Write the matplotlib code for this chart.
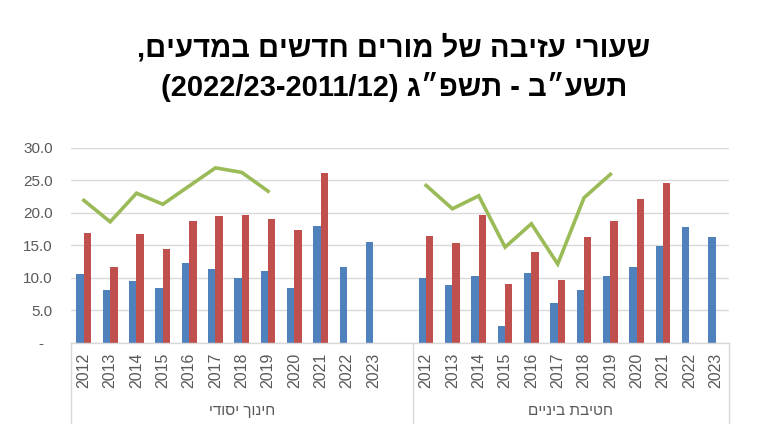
import numpy as np
import matplotlib.pyplot as plt
from matplotlib.transforms import blended_transform_factory

plt.rcParams['font.family'] = ['Liberation Sans', 'DejaVu Sans']

years = ['2012', '2013', '2014', '2015', '2016', '2017',
         '2018', '2019', '2020', '2021', '2022', '2023']

# חינוך יסודי
prim_1yr = [10.6, 8.1, 9.5, 8.4, 12.2, 11.4, 9.9, 11.0, 8.4, 17.9, 11.6, 15.5]
prim_3yr = [16.9, 11.6, 16.7, 14.4, 18.8, 19.5, 19.6, 19.0, 17.4, 26.1, np.nan, np.nan]
prim_5yr = [21.9, 18.6, 23.0, 21.3, 24.1, 26.9, 26.2, 23.3, np.nan, np.nan, np.nan, np.nan]

# חטיבת ביניים
mid_1yr = [10.0, 8.9, 10.3, 2.5, 10.8, 6.1, 8.1, 10.2, 11.7, 14.9, 17.8, 16.3]
mid_3yr = [16.4, 15.3, 19.6, 9.1, 14.0, 9.6, 16.3, 18.8, 22.1, 24.6, np.nan, np.nan]
mid_5yr = [24.2, 20.6, 22.6, 14.7, 18.3, 12.1, 22.3, 25.9, np.nan, np.nan, np.nan, np.nan]

# hebrew strings written in visual order (matplotlib has no bidi)
title_1 = ',םיעדמב םישדח םירומ לש הביזע ירועש'
title_2 = '(2022/23-2011/12) ג״פשת - ב״עשת'
group_labels = ['ידוסי ךוניח', 'םייניב תביטח']

blue = '#4F81BD'
red = '#C0504D'
green = '#9BBB59'
grey = '#595959'
light = '#D9D9D9'

fig = plt.figure(figsize=(7.6, 4.26), dpi=100)
ax = fig.add_axes([0.093, 0.1955, 0.866, 0.4578])

pos_l = np.arange(12)
pos_r = np.arange(13, 25)
w = 0.28

for pos, b, r, g in [(pos_l, prim_1yr, prim_3yr, prim_5yr),
                     (pos_r, mid_1yr, mid_3yr, mid_5yr)]:
    ax.bar(pos - w / 2, b, width=w, color=blue, zorder=2)
    ax.bar(pos + w / 2, r, width=w, color=red, zorder=2)
    ax.plot(pos, g, color=green, lw=2.6, zorder=3, solid_joinstyle='miter')

ax.set_xlim(-0.5, 24.5)
ax.set_ylim(0, 30)
ax.set_yticks(np.arange(0, 31, 5))
ax.set_yticklabels(['-  '] + [f'{v:.1f}' for v in np.arange(5, 31, 5)])
ax.set_xticks(np.concatenate([pos_l, pos_r]))
ax.set_xticklabels(years + years, rotation=90)
ax.tick_params(axis='y', length=0, pad=13, labelsize=11, labelcolor=grey)
ax.tick_params(axis='x', length=0, pad=7, labelsize=11.5, labelcolor=grey)
ax.grid(axis='y', color=light, lw=1, zorder=0)
for s in ['top', 'right', 'left']:
    ax.spines[s].set_visible(False)
ax.spines['bottom'].set_color(light)
ax.spines['bottom'].set_linewidth(1)

tr = blended_transform_factory(ax.transData, ax.transAxes)
for xv in [-0.5, 12.5, 24.5]:
    ax.plot([xv, xv], [0, -0.41], color=light, lw=1, transform=tr, clip_on=False)
ax.text(6, -0.35, group_labels[0], transform=tr, ha='center', va='center',
        fontsize=11, color=grey)
ax.text(18.5, -0.35, group_labels[1], transform=tr, ha='center', va='center',
        fontsize=11, color=grey)

fig.text(0.518, 0.887, title_1, ha='center', va='center', fontsize=21, fontweight='bold')
fig.text(0.518, 0.796, title_2, ha='center', va='center', fontsize=21, fontweight='bold')

fig.savefig('out.png', dpi=100)
